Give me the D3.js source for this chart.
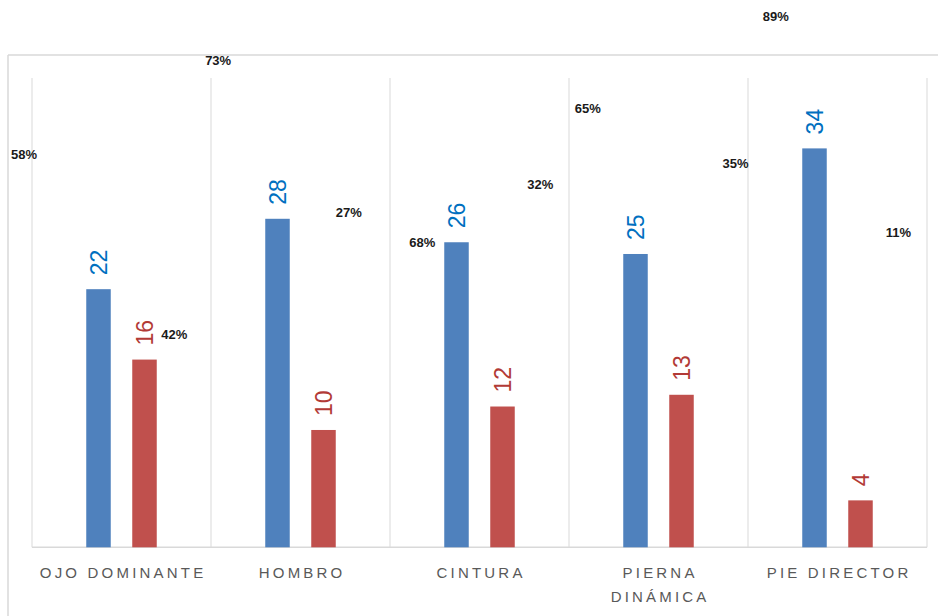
<!DOCTYPE html>
<html><head><meta charset="utf-8">
<script src="https://cdn.jsdelivr.net/npm/d3@7"></script>
<style>body{margin:0;background:#fff;} svg{display:block;}</style>
</head><body>
<svg id="c" width="938" height="616"></svg>
<script>
// ---- data ----
const categories = [["OJO DOMINANTE"], ["HOMBRO"], ["CINTURA"], ["PIERNA", "DINÁMICA"], ["PIE DIRECTOR"]];
const seriesA = [22, 28, 26, 25, 34];   // blue
const seriesB = [16, 10, 12, 13, 4];    // red
const pctA = ["58%", "73%", "68%", "65%", "89%"];
const pctB = ["42%", "27%", "32%", "35%", "11%"];
const yMax = 40;

// ---- placement of the percentage annotations (band fraction, value units) ----
const pctPlaceA = [[-0.045, 33.5], [0.04, 41.5], [0.18, 26.0], [0.105, 37.4], [0.155, 45.2]];
const pctPlaceB = [[0.795, 18.1], [0.77, 28.5], [0.84, 30.9], [0.93, 32.7], [0.84, 26.8]];

const svg = d3.select("#c");
const L = 32, R = 927, T = 78, B = 547.3;
const x = d3.scaleBand().domain(d3.range(categories.length)).range([L, R]).padding(0);
const y = d3.scaleLinear().domain([0, yMax]).range([B, T]);
const bw = 24.5, off = 23;
const blue = "#4F81BD", red = "#C0504D", grid = "#D9D9D9";

// chart border (top & left)
svg.append("line").attr("x1", 8).attr("x2", 938).attr("y1", 55).attr("y2", 55).attr("stroke", grid).attr("stroke-width", 1.5);
svg.append("line").attr("x1", 8).attr("x2", 8).attr("y1", 55).attr("y2", 616).attr("stroke", grid).attr("stroke-width", 1.5);

// vertical gridlines at band boundaries
const bounds = d3.range(categories.length + 1).map(i => i < categories.length ? x(i) : x(categories.length - 1) + x.bandwidth());
svg.append("g").selectAll("line").data(bounds).join("line")
  .attr("x1", d => d).attr("x2", d => d).attr("y1", T).attr("y2", B)
  .attr("stroke", grid).attr("stroke-width", 1);
// baseline
svg.append("line").attr("x1", L).attr("x2", R).attr("y1", B).attr("y2", B).attr("stroke", grid).attr("stroke-width", 1.5);

const cx = i => x(i) + x.bandwidth() / 2;

// bars
svg.append("g").selectAll("rect").data(seriesA).join("rect")
  .attr("x", (d, i) => cx(i) - off - bw / 2).attr("width", bw)
  .attr("y", d => y(d)).attr("height", d => B - y(d)).attr("fill", blue);
svg.append("g").selectAll("rect").data(seriesB).join("rect")
  .attr("x", (d, i) => cx(i) + off - bw / 2).attr("width", bw)
  .attr("y", d => y(d)).attr("height", d => B - y(d)).attr("fill", red);

// value labels (rotated)
function valLabels(data, dx, color) {
  svg.append("g").selectAll("text").data(data).join("text")
    .attr("transform", (d, i) => `translate(${cx(i) + dx + 8},${y(d) - 14}) rotate(-90)`)
    .attr("text-anchor", "start")
    .attr("font-family", "'Liberation Sans', Arial, sans-serif")
    .attr("font-size", 23).attr("fill", color)
    .text(d => d);
}
valLabels(seriesA, -off, "#0070C0");
valLabels(seriesB, off, "#B23A36");

// percentage annotations
function pctLabels(texts, place) {
  svg.append("g").selectAll("text").data(texts).join("text")
    .attr("x", (d, i) => x(i) + place[i][0] * x.bandwidth())
    .attr("y", (d, i) => y(place[i][1]))
    .attr("text-anchor", "middle").attr("dominant-baseline", "central")
    .attr("font-family", "'Liberation Sans', Arial, sans-serif")
    .attr("font-size", 13).attr("font-weight", "bold").attr("fill", "#1a1a1a")
    .text(d => d);
}
pctLabels(pctA, pctPlaceA);
pctLabels(pctB, pctPlaceB);

// category labels
const cat = svg.append("g").selectAll("text").data(categories).join("text")
  .attr("x", (d, i) => cx(i)).attr("y", 578)
  .attr("text-anchor", "middle")
  .attr("font-family", "'Liberation Sans', Arial, sans-serif")
  .attr("font-size", 15).attr("fill", "#595959").attr("letter-spacing", 3.2);
cat.selectAll("tspan").data((d, i) => d.map(t => ({t, i}))).join("tspan")
  .attr("x", d => cx(d.i) + 1.6).attr("dy", (d, j) => j === 0 ? 0 : 24)
  .text(d => d.t);
</script>
</body></html>
